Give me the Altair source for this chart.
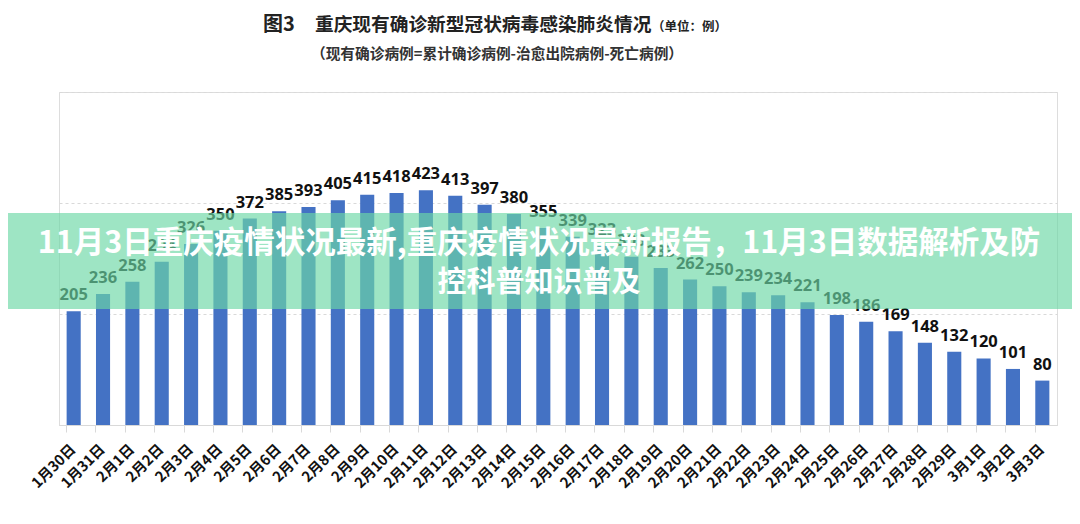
import altair as alt
import pandas as pd

dates = ["1月30日", "1月31日", "2月1日", "2月2日", "2月3日", "2月4日", "2月5日", "2月6日",
         "2月7日", "2月8日", "2月9日", "2月10日", "2月11日", "2月12日", "2月13日", "2月14日",
         "2月15日", "2月16日", "2月17日", "2月18日", "2月19日", "2月20日", "2月21日", "2月22日",
         "2月23日", "2月24日", "2月25日", "2月26日", "2月27日", "2月28日", "2月29日", "3月1日",
         "3月2日", "3月3日"]
cases = [205, 236, 258, 294, 326, 350, 372, 385, 393, 405, 415, 418, 423, 413, 397, 380, 355,
         339, 323, 303, 283, 262, 250, 239, 234, 221, 198, 186, 169, 148, 132, 120, 101, 80]
grid_values = [0, 200, 400, 600]

title_fig = "图3"
title_main = "重庆现有确诊新型冠状病毒感染肺炎情况"
title_unit = "（单位：例）"
subtitle = "（现有确诊病例=累计确诊病例-治愈出院病例-死亡病例）"
banner_line1 = "11月3日重庆疫情状况最新,重庆疫情状况最新报告，11月3日数据解析及防"
banner_line2 = "控科普知识普及"

df = pd.DataFrame({"date": dates, "cases": cases})
one = pd.DataFrame({"k": [0]})

CJK = "Noto Sans CJK SC"
W, H = 998, 333

x_enc = alt.X("date:N", sort=dates, title=None,
              scale=alt.Scale(paddingInner=0.52, paddingOuter=0.26),
              axis=alt.Axis(labelAngle=-45, labelAlign="right", labelBaseline="middle",
                            labelFont=CJK, labelFontSize=14.5, labelFontWeight="bold",
                            labelColor="#111111", labelPadding=15,
                            bandPosition=0, labelOffset=0,
                            domainColor="#d9d9d9", tickColor="#d9d9d9", tickSize=7,
                            grid=False))
y_enc = alt.Y("cases:Q", title=None,
              scale=alt.Scale(domain=[0, 600], nice=False, zero=True),
              axis=alt.Axis(values=grid_values, labels=False, ticks=False, domain=False,
                            grid=True, gridColor="#d9d9d9", gridDash=[3, 3], gridWidth=1))

bars = alt.Chart(df).mark_bar(color="#4472C4").encode(x=x_enc, y=y_enc)
labels = alt.Chart(df).mark_text(font="Open Sans", fontSize=16.5, fontWeight="bold",
                                 color="#111111", baseline="bottom", dy=-8).encode(
    x=alt.X("date:N", sort=dates), y=alt.Y("cases:Q"), text="cases:Q")

def deco_text(txt, x, y, size, align="left", color="#222222", weight="bold"):
    return alt.Chart(one).mark_text(text=txt, font=CJK, fontSize=size, fontWeight=weight,
                                    align=align, baseline="middle", color=color).encode(
        x=alt.value(x), y=alt.value(y))

t1 = deco_text(title_fig, 204, -67, 20)
t2 = deco_text(title_main, 256, -67, 18.7)
t3 = deco_text(title_unit, 593, -65, 12.5)
t4 = deco_text(subtitle, 438, -37, 14.7, align="center", color="#333333")

band = alt.Chart(one).mark_rect(color="#6cd8a6", opacity=0.66).encode(
    x=alt.value(-60), x2=alt.value(1030), y=alt.value(121), y2=alt.value(217))
b1 = deco_text(banner_line1, 480, 152, 30.5, align="center", color="#ffffff")
b2 = deco_text(banner_line2, 480, 191, 29, align="center", color="#ffffff")

chart = alt.layer(bars, labels, t1, t2, t3, t4, band, b1, b2).properties(
    width=W, height=H,
    autosize=alt.AutoSizeParams(type="none"),
    padding={"left": 51, "top": 84, "right": 15, "bottom": 91},
).configure_view(stroke="#d9d9d9", strokeWidth=1).configure(background="#ffffff")

chart.save("out.html", embed_options={"renderer": "svg", "actions": False})
